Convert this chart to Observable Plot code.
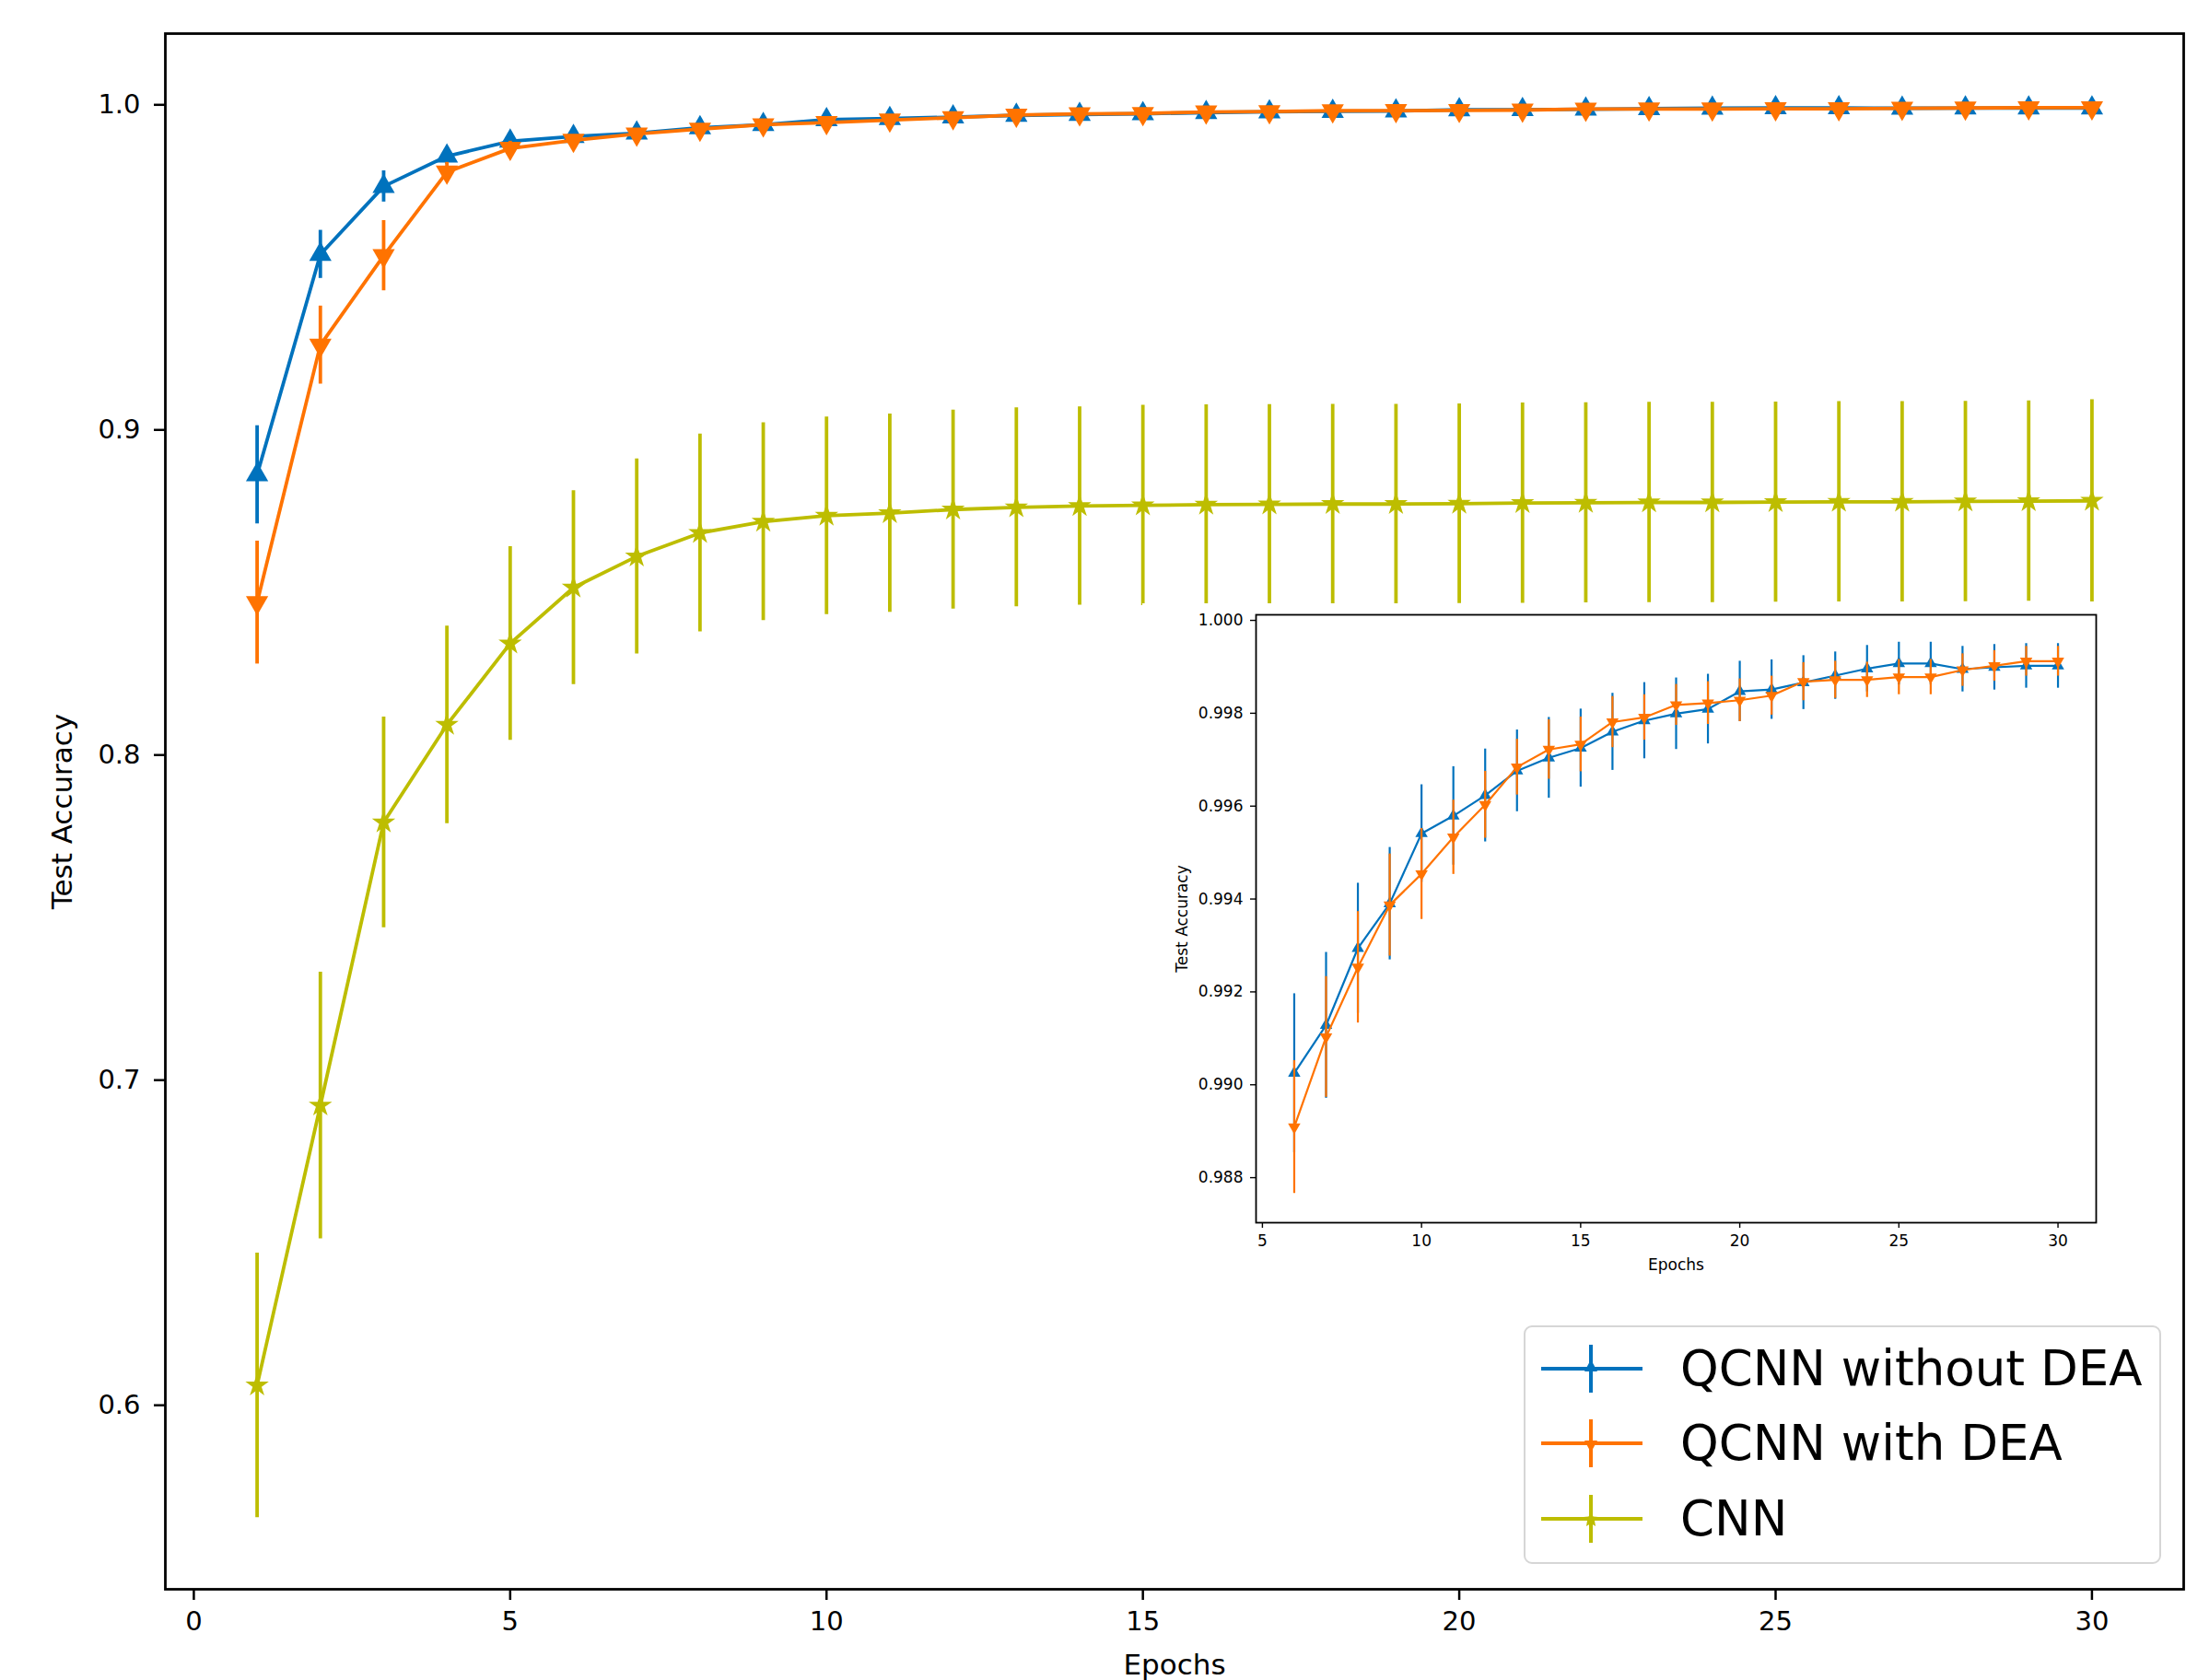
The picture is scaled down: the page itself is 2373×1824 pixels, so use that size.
<!DOCTYPE html>
<html>
<head>
<meta charset="utf-8">
<script src="https://cdn.jsdelivr.net/npm/d3@7"></script>
<script src="https://cdn.jsdelivr.net/npm/@observablehq/plot@0.6"></script>
<style>
  body { margin: 0; background: #fff; }
  #wrap { position: relative; width: 2373px; height: 1824px; overflow: hidden; font-family: "DejaVu Sans", sans-serif; background: #fff; }
  #wrap > svg { position: absolute; }
  #legend { position: absolute; left: 1654px; top: 1439px; width: 688px; height: 255px; border: 2px solid #d6d6d6; border-radius: 9px; background: rgba(255,255,255,0.85); box-sizing: content-box; }
  .lrow { position: absolute; left: 0; height: 70px; width: 100%; }
  .lrow svg { position: absolute; left: 16px; top: 5px; }
  .lrow span { position: absolute; left: 168px; top: 0; line-height: 70px; font-size: 53px; color: #000; font-family: "DejaVu Sans", sans-serif; white-space: nowrap; }
</style>
</head>
<body>
<div id="wrap"></div>
<script>
// ---------------- data ----------------
const epochs = [1,2,3,4,5,6,7,8,9,10,11,12,13,14,15,16,17,18,19,20,21,22,23,24,25,26,27,28,29,30];

const seriesNames = ["QCNN without DEA", "QCNN with DEA", "CNN"];
const seriesColors = ["#0072BD", "#FF7300", "#BDBD00"];

const qcnnNoDEA = [0.8862, 0.9540, 0.9749, 0.9842, 0.9888, 0.99025, 0.99128, 0.99294, 0.99390, 0.99541,
                   0.99579, 0.99623, 0.99676, 0.99704, 0.99725, 0.99760, 0.99784, 0.99799, 0.99809, 0.99847,
                   0.99851, 0.99866, 0.99881, 0.99896, 0.99907, 0.99907, 0.99895, 0.99899, 0.99902, 0.99902];
const qcnnNoDEAErr = [0.0151, 0.0074, 0.0048, 0.0025, 0.0021, 0.00171, 0.00157, 0.00140, 0.00121, 0.00105,
                      0.00106, 0.00100, 0.00088, 0.00087, 0.00084, 0.00083, 0.00082, 0.00077, 0.00075, 0.00065,
                      0.00064, 0.00058, 0.00051, 0.00050, 0.00046, 0.00046, 0.00049, 0.00049, 0.00048, 0.00048];

const qcnnDEA = [0.8469, 0.9261, 0.9536, 0.9793, 0.9866, 0.98909, 0.99103, 0.99253, 0.99387, 0.99454,
                 0.99533, 0.99603, 0.99684, 0.99722, 0.99733, 0.99781, 0.99791, 0.99818, 0.99822, 0.99828,
                 0.99838, 0.99868, 0.99872, 0.99872, 0.99878, 0.99878, 0.99893, 0.99902, 0.99912, 0.99912];
const qcnnDEAErr = [0.0189, 0.0120, 0.0108, 0.0030, 0.0022, 0.00143, 0.00130, 0.00120, 0.00110, 0.00098,
                    0.00080, 0.00072, 0.00060, 0.00064, 0.00059, 0.00055, 0.00049, 0.00044, 0.00046, 0.00046,
                    0.00042, 0.00041, 0.00040, 0.00038, 0.00038, 0.00038, 0.00035, 0.00033, 0.00032, 0.00032];

const cnn = [0.6061, 0.6922, 0.7793, 0.8093, 0.8343, 0.8515, 0.8611, 0.8683, 0.8718, 0.8736,
             0.8744, 0.8755, 0.8762, 0.8766, 0.8768, 0.8770, 0.8771, 0.8772, 0.8772, 0.8773,
             0.8775, 0.8776, 0.8777, 0.8777, 0.8778, 0.8779, 0.8779, 0.8780, 0.8781, 0.8782];
const cnnErr = [0.0407, 0.0410, 0.0324, 0.0304, 0.0298, 0.0298, 0.0300, 0.0304, 0.0304, 0.0304,
                0.0305, 0.0306, 0.0306, 0.0305, 0.0308, 0.0307, 0.0307, 0.0307, 0.0307, 0.0307,
                0.0308, 0.0308, 0.0308, 0.0308, 0.0308, 0.0308, 0.0308, 0.0308, 0.0308, 0.0311];

const mainXTicks = [0, 5, 10, 15, 20, 25, 30];
const mainYTicks = [0.6, 0.7, 0.8, 0.9, 1.0];
const insetFirstEpoch = 6;
const insetXTicks = [5, 10, 15, 20, 25, 30];
const insetYTicks = [0.988, 0.990, 0.992, 0.994, 0.996, 0.998, 1.000];
const xLabel = "Epochs";
const yLabel = "Test Accuracy";

// ---------------- build tables ----------------
const table = (means, errs) => epochs.map((e, i) => ({epoch: e, mean: means[i], lo: means[i] - errs[i], hi: means[i] + errs[i]}));
const sBlue = table(qcnnNoDEA, qcnnNoDEAErr);
const sOrange = table(qcnnDEA, qcnnDEAErr);
const sCnn = table(cnn, cnnErr);

function seriesMarks(data, color, symbol, rotate, r, sw) {
  return [
    Plot.ruleX(data, {x: "epoch", y1: "lo", y2: "hi", stroke: color, strokeWidth: sw}),
    Plot.line(data, {x: "epoch", y: "mean", stroke: color, strokeWidth: sw}),
    Plot.dot(data, {x: "epoch", y: "mean", symbol, fill: color, stroke: "none", r, rotate})
  ];
}

const wrap = document.getElementById("wrap");

// ---------------- main chart ----------------
const main = Plot.plot({
  width: 2373,
  height: 1824,
  marginLeft: 179,
  marginRight: 3,
  marginTop: 36,
  marginBottom: 99,
  style: {fontSize: "29px", fontFamily: "DejaVu Sans, sans-serif", background: "transparent", color: "#000"},
  x: {domain: [-0.45, 31.45]},
  y: {domain: [0.5434, 1.0219]},
  marks: [
    ...seriesMarks(sBlue, seriesColors[0], "triangle", 0, 9, 3.8),
    ...seriesMarks(sOrange, seriesColors[1], "triangle", 180, 9, 3.8),
    ...seriesMarks(sCnn, seriesColors[2], "star", 0, 8, 3.8),
    Plot.axisX({ticks: mainXTicks, tickSize: 12, tickPadding: 12, strokeWidth: 2.5, label: null}),
    Plot.axisY({ticks: mainYTicks, tickFormat: d3.format(".1f"), tickSize: 12, tickPadding: 15, strokeWidth: 2.5, label: null}),
    Plot.frame({stroke: "#000", strokeWidth: 2.8}),
    Plot.text([xLabel], {text: d => d, frameAnchor: "bottom", textAnchor: "middle", dy: 92, fontSize: 31, fill: "#000"}),
    Plot.text([yLabel], {text: d => d, frameAnchor: "left", textAnchor: "middle", dx: -111, rotate: -90, fontSize: 31, fill: "#000"})
  ]
});
main.style.left = "0px";
main.style.top = "0px";
wrap.appendChild(main);

// ---------------- inset chart ----------------
const insetSlice = rows => rows.filter(d => d.epoch >= insetFirstEpoch);
const inset = Plot.plot({
  width: 1060,
  height: 730,
  marginLeft: 123,
  marginRight: 25,
  marginTop: 12,
  marginBottom: 58,
  style: {fontSize: "17px", fontFamily: "DejaVu Sans, sans-serif", background: "#fff", color: "#000"},
  x: {domain: [4.8, 31.2]},
  y: {domain: [0.98703, 1.00012]},
  marks: [
    ...seriesMarks(insetSlice(sBlue), seriesColors[0], "triangle", 0, 5, 2.2),
    ...seriesMarks(insetSlice(sOrange), seriesColors[1], "triangle", 180, 5, 2.2),
    Plot.axisX({ticks: insetXTicks, tickSize: 6, tickPadding: 7, strokeWidth: 1.4, label: null}),
    Plot.axisY({ticks: insetYTicks, tickFormat: d3.format(".3f"), tickSize: 6, tickPadding: 8, strokeWidth: 1.4, label: null}),
    Plot.frame({stroke: "#000", strokeWidth: 1.8}),
    Plot.text([xLabel], {text: d => d, frameAnchor: "bottom", textAnchor: "middle", dy: 51, fontSize: 17, fill: "#000"}),
    Plot.text([yLabel], {text: d => d, frameAnchor: "left", textAnchor: "middle", dx: -80, rotate: -90, fontSize: 17, fill: "#000"})
  ]
});
inset.style.left = "1240px";
inset.style.top = "655px";
wrap.appendChild(inset);

// ---------------- legend ----------------
const legend = document.createElement("div");
legend.id = "legend";
const legendSymbols = [
  '<path d="M55,20 L62,33 L48,33 Z" />',
  '<path d="M55,40 L62,27 L48,27 Z" />',
  '<path d="M55,22 L57.5,27.5 L63,28 L59,32 L60,38 L55,35 L50,38 L51,32 L47,28 L52.5,27.5 Z" />'
];
const rowTops = [10, 91, 173];
seriesNames.forEach((name, i) => {
  const row = document.createElement("div");
  row.className = "lrow";
  row.style.top = rowTops[i] + "px";
  const c = seriesColors[i];
  row.innerHTML =
    `<svg width="112" height="60" viewBox="0 0 112 60">
       <line x1="1" y1="30" x2="111" y2="30" stroke="${c}" stroke-width="4"/>
       <line x1="55" y1="4" x2="55" y2="56" stroke="${c}" stroke-width="4"/>
       <g fill="${c}">${legendSymbols[i]}</g>
     </svg><span>${name}</span>`;
  legend.appendChild(row);
});
wrap.appendChild(legend);
</script>
</body>
</html>
